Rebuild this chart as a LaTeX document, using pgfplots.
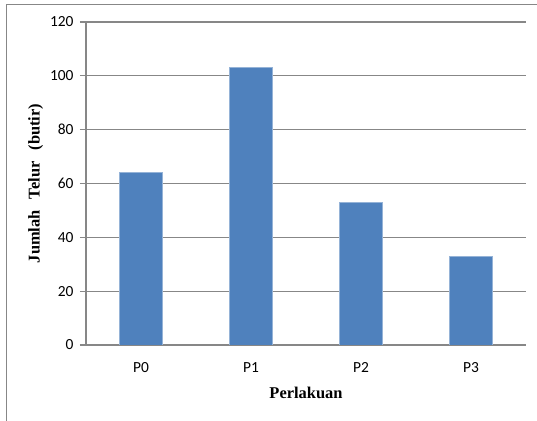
\documentclass[border=0pt]{standalone}
\usepackage{pgfplots}
\pgfplotsset{compat=1.18}
\usepackage{fontspec}
\setmainfont{Liberation Serif}
\newfontfamily\tickfont{Carlito}
\newcommand\tf{\tickfont\fontsize{15.5}{17}\selectfont}
\definecolor{barblue}{HTML}{4F81BD}
\definecolor{gridgray}{HTML}{878787}
\begin{document}
\begin{tikzpicture}
\useasboundingbox (0,0) rectangle (537bp,421bp);
\draw[gridgray, line width=1bp] (6bp,0) -- (6bp,416bp) -- (537bp,416bp);
\begin{axis}[
  at={(86bp,76bp)}, anchor=south west,
  scale only axis, width=440bp, height=323bp,
  xmin=-0.5, xmax=3.5, ymin=0, ymax=120,
  xtick={0,1,2,3}, xticklabels={{\tf P0},{\tf P1},{\tf P2},{\tf P3}},
  ytick={0,20,...,120},
  yticklabel={\tf\pgfmathprintnumber[assume math mode=true]{\tick}},
  axis x line*=bottom, axis y line*=left,
  axis line style={gridgray, line width=1.2bp, -},
  ymajorgrids, grid style={gridgray, line width=1.2bp},
  y tick style={gridgray, line width=1.2bp},
  x tick style={draw=none},
  tick align=outside, major tick length=6bp,
  /pgf/number format/assume math mode=true,
  yticklabel style={xshift=-3bp},
  xticklabel style={yshift=-8bp},
  xlabel={\bfseries Perlakuan},
  ylabel={\bfseries Jumlah\hspace{11bp}Telur\hspace{11bp}(butir)},
  label style={font=\fontsize{16.5}{18}\selectfont},
  xlabel style={yshift=-8bp},
  ylabel style={yshift=0bp},
]
\addplot[ybar, bar width=43bp, fill=barblue, draw=barblue!60!white, line width=0.6bp] coordinates {(0,64) (1,103) (2,53) (3,33)};
\end{axis}
\end{tikzpicture}
\end{document}
